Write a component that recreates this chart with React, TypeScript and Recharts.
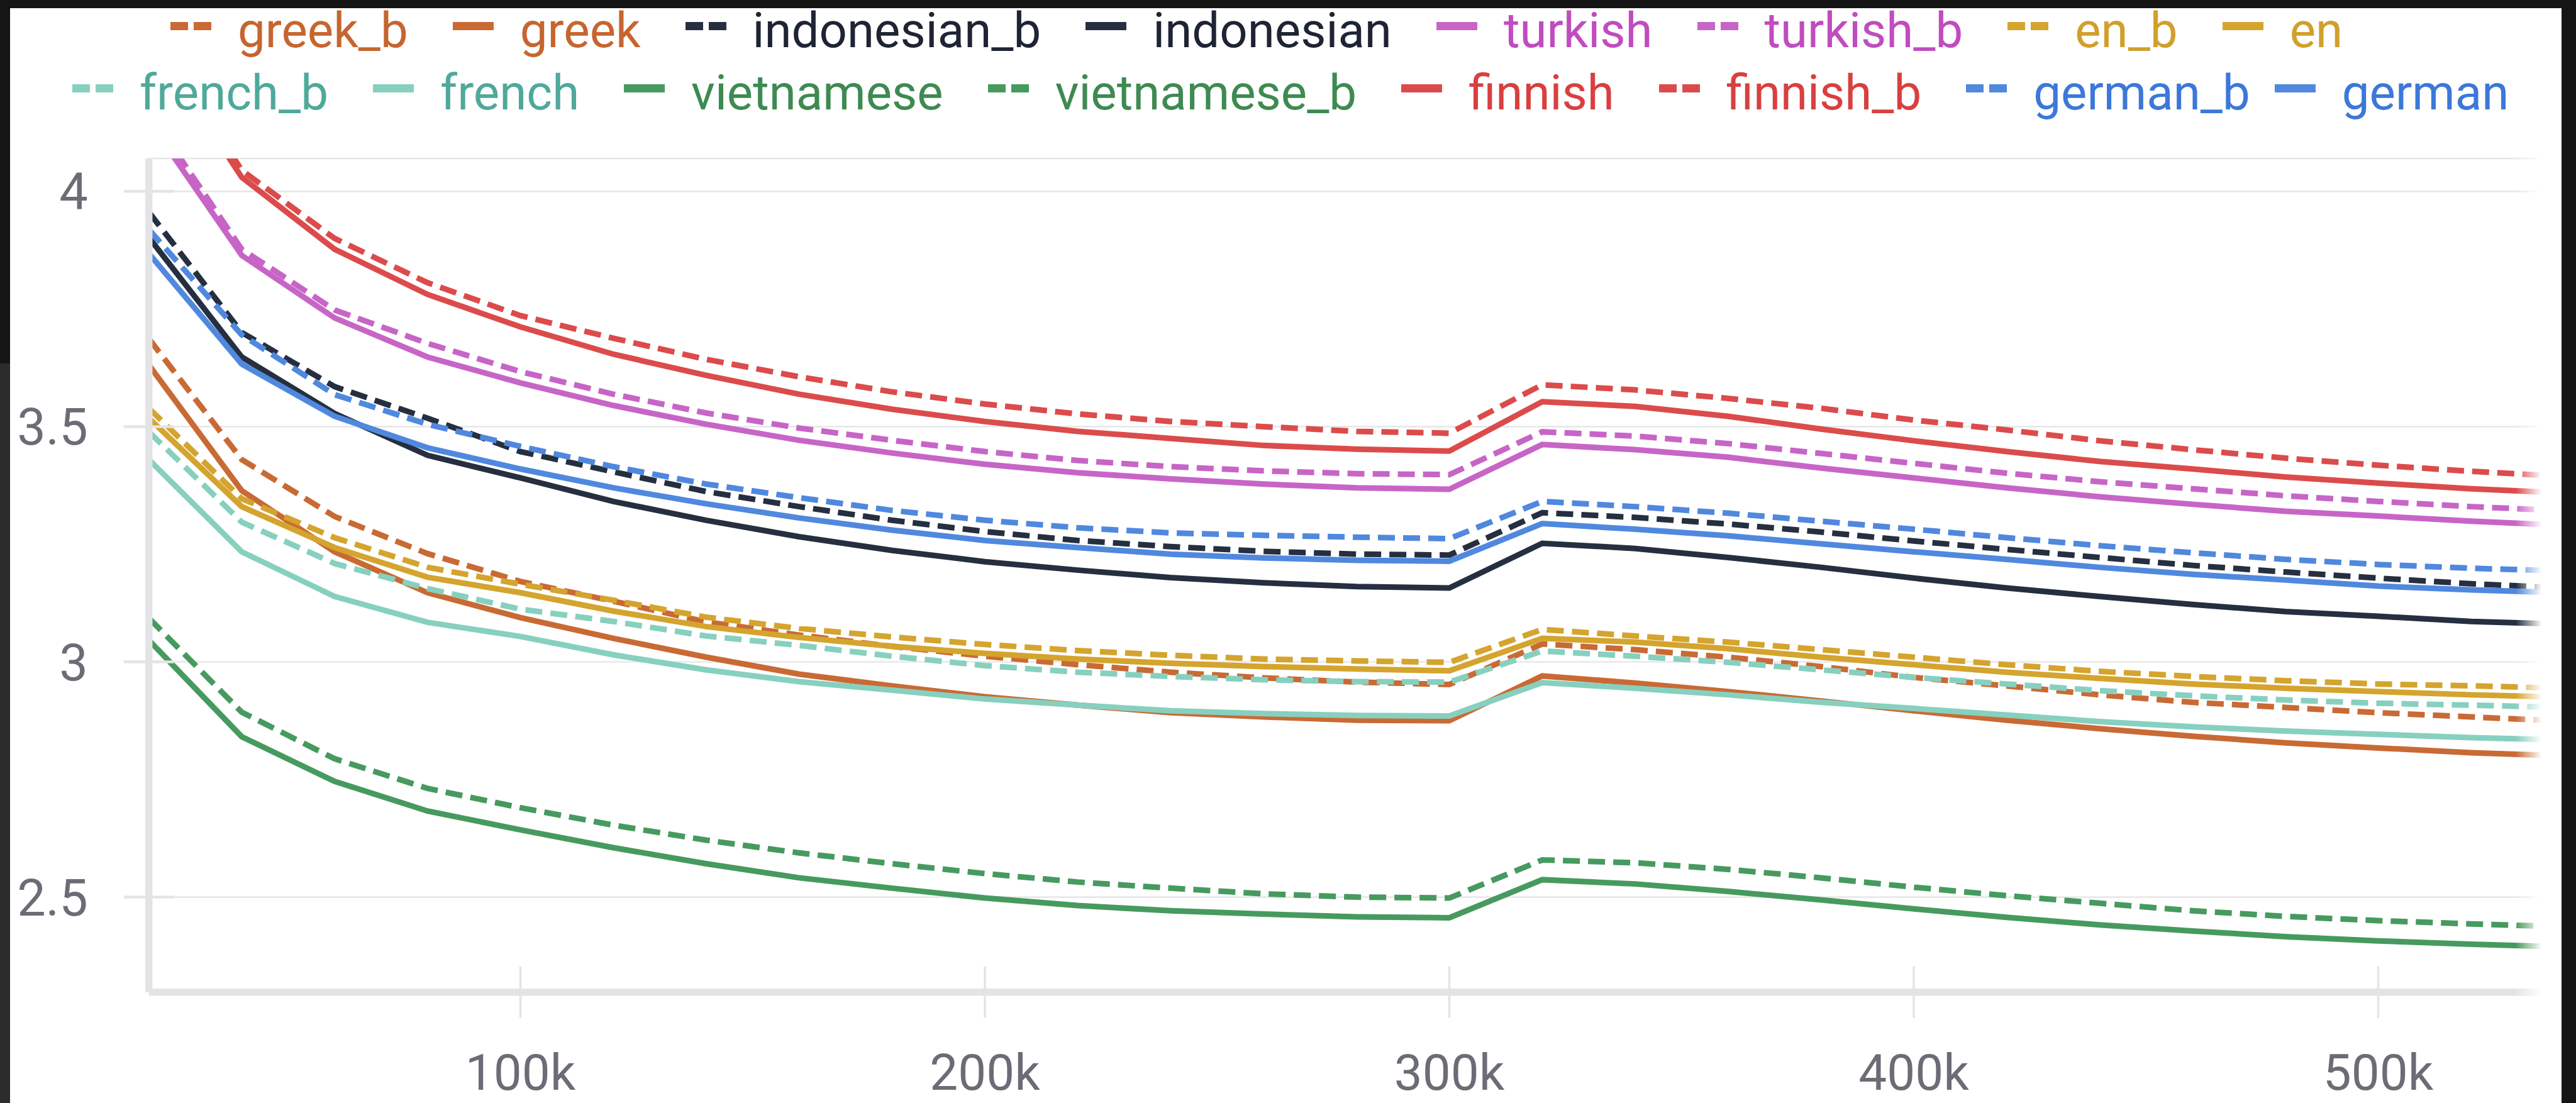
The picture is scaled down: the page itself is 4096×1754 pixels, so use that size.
import { LineChart, Line, XAxis, YAxis, CartesianGrid, Legend } from 'recharts';

const W = 4096;
const H = 1754;

// plot frame, in page pixels
const PLOT_LEFT = 236.7;
const PLOT_RIGHT = 4040;
const PLOT_TOP = 252;
const PLOT_BOTTOM = 1577.7;

const FONT = 'Roboto, "Noto Sans", sans-serif';
const AXIS_GRAY = '#e4e4e7';
const GRID_GRAY = '#e8e8ea';
const LABEL_GRAY = '#6c6c76';

const STEPS = [
  20000, 40000, 60000, 80000, 100000, 120000, 140000, 160000, 180000, 200000,
  220000, 240000, 260000, 280000, 300000, 320000, 340000, 360000, 380000, 400000,
  420000, 440000, 460000, 480000, 500000, 520000, 540000,
];

const X_TICKS = [100000, 200000, 300000, 400000, 500000];
const Y_TICKS = [2.5, 3, 3.5, 4];

const GREEK_B = [3.687, 3.43, 3.309, 3.23, 3.171, 3.129, 3.085, 3.057, 3.033, 3.012, 2.994, 2.978, 2.966, 2.957, 2.952, 3.038, 3.026, 3.01, 2.99, 2.967, 2.949, 2.93, 2.914, 2.903, 2.892, 2.883, 2.874];
const GREEK = [3.631, 3.364, 3.234, 3.147, 3.094, 3.05, 3.01, 2.974, 2.949, 2.926, 2.908, 2.892, 2.883, 2.876, 2.875, 2.97, 2.955, 2.937, 2.917, 2.896, 2.876, 2.858, 2.842, 2.828, 2.817, 2.807, 2.8];
const INDONESIAN_B = [3.956, 3.7, 3.585, 3.518, 3.447, 3.404, 3.362, 3.33, 3.301, 3.277, 3.258, 3.245, 3.235, 3.229, 3.227, 3.317, 3.307, 3.293, 3.276, 3.257, 3.239, 3.222, 3.205, 3.191, 3.178, 3.166, 3.157];
const INDONESIAN = [3.902, 3.648, 3.528, 3.439, 3.391, 3.341, 3.301, 3.266, 3.237, 3.213, 3.195, 3.179, 3.168, 3.16, 3.157, 3.252, 3.241, 3.222, 3.201, 3.178, 3.157, 3.139, 3.122, 3.107, 3.097, 3.086, 3.08];
const TURKISH = [4.15, 3.864, 3.731, 3.648, 3.593, 3.545, 3.505, 3.471, 3.444, 3.42, 3.402, 3.389, 3.378, 3.37, 3.367, 3.462, 3.451, 3.435, 3.412, 3.391, 3.37, 3.351, 3.335, 3.32, 3.31, 3.299, 3.29];
const TURKISH_B = [4.17, 3.877, 3.748, 3.677, 3.617, 3.569, 3.529, 3.497, 3.471, 3.447, 3.428, 3.415, 3.406, 3.4, 3.398, 3.489, 3.48, 3.464, 3.443, 3.422, 3.401, 3.383, 3.368, 3.353, 3.341, 3.33, 3.321];
const EN_B = [3.539, 3.347, 3.264, 3.201, 3.165, 3.131, 3.095, 3.071, 3.053, 3.037, 3.024, 3.014, 3.006, 3.002, 2.999, 3.069, 3.055, 3.042, 3.026, 3.01, 2.994, 2.98, 2.969, 2.96, 2.953, 2.949, 2.944];
const EN = [3.518, 3.33, 3.243, 3.18, 3.147, 3.108, 3.075, 3.052, 3.033, 3.018, 3.006, 2.997, 2.99, 2.985, 2.981, 3.05, 3.042, 3.028, 3.01, 2.994, 2.978, 2.965, 2.953, 2.944, 2.937, 2.93, 2.925];
const FRENCH_B = [3.489, 3.297, 3.209, 3.156, 3.112, 3.086, 3.055, 3.035, 3.012, 2.992, 2.978, 2.969, 2.962, 2.958, 2.957, 3.023, 3.012, 2.999, 2.983, 2.967, 2.953, 2.939, 2.928, 2.919, 2.912, 2.908, 2.903];
const FRENCH = [3.43, 3.234, 3.139, 3.084, 3.054, 3.015, 2.983, 2.958, 2.94, 2.921, 2.908, 2.896, 2.89, 2.886, 2.885, 2.956, 2.944, 2.93, 2.914, 2.901, 2.887, 2.873, 2.862, 2.853, 2.846, 2.839, 2.834];
const VIETNAMESE = [3.046, 2.841, 2.746, 2.683, 2.643, 2.605, 2.571, 2.541, 2.519, 2.498, 2.482, 2.471, 2.464, 2.458, 2.456, 2.537, 2.528, 2.512, 2.494, 2.475, 2.457, 2.441, 2.428, 2.416, 2.407, 2.4, 2.394];
const VIETNAMESE_B = [3.093, 2.893, 2.794, 2.731, 2.69, 2.653, 2.621, 2.594, 2.571, 2.55, 2.532, 2.519, 2.507, 2.5, 2.498, 2.579, 2.573, 2.559, 2.541, 2.521, 2.503, 2.487, 2.471, 2.459, 2.45, 2.443, 2.437];
const FINNISH = [4.33, 4.03, 3.877, 3.781, 3.712, 3.654, 3.609, 3.569, 3.537, 3.511, 3.49, 3.475, 3.46, 3.452, 3.448, 3.553, 3.543, 3.522, 3.495, 3.47, 3.447, 3.426, 3.41, 3.393, 3.38, 3.368, 3.359];
const FINNISH_B = [4.35, 4.045, 3.9, 3.806, 3.736, 3.688, 3.643, 3.606, 3.574, 3.548, 3.527, 3.511, 3.5, 3.49, 3.486, 3.589, 3.578, 3.56, 3.539, 3.514, 3.493, 3.47, 3.451, 3.433, 3.418, 3.405, 3.394];
const GERMAN_B = [3.919, 3.695, 3.568, 3.505, 3.458, 3.415, 3.378, 3.349, 3.322, 3.301, 3.285, 3.274, 3.269, 3.265, 3.262, 3.341, 3.33, 3.316, 3.299, 3.282, 3.264, 3.247, 3.232, 3.218, 3.207, 3.199, 3.193];
const GERMAN = [3.868, 3.633, 3.522, 3.455, 3.41, 3.37, 3.336, 3.306, 3.28, 3.258, 3.243, 3.229, 3.221, 3.216, 3.214, 3.294, 3.282, 3.268, 3.251, 3.234, 3.218, 3.201, 3.186, 3.174, 3.161, 3.153, 3.147];

// line colour / legend text colour per language
const ORANGE = ['#c96a34', '#c6652f'];
const NAVY = ['#252f40', '#1e2433'];
const MAGENTA = ['#c765c7', '#c04cbf'];
const GOLD = ['#d4a42e', '#d0a02b'];
const TEAL = ['#87d0bf', '#4fa99a'];
const GREEN = ['#479a5f', '#3e8a52'];
const RED = ['#dc4b4b', '#d93f3f'];
const BLUE = ['#5088de', '#3c78da'];

const SERIES = [
  { key: 'greek_b', values: GREEK_B, color: ORANGE, dashed: true },
  { key: 'greek', values: GREEK, color: ORANGE, dashed: false },
  { key: 'indonesian_b', values: INDONESIAN_B, color: NAVY, dashed: true },
  { key: 'indonesian', values: INDONESIAN, color: NAVY, dashed: false },
  { key: 'turkish', values: TURKISH, color: MAGENTA, dashed: false },
  { key: 'turkish_b', values: TURKISH_B, color: MAGENTA, dashed: true },
  { key: 'en_b', values: EN_B, color: GOLD, dashed: true },
  { key: 'en', values: EN, color: GOLD, dashed: false },
  { key: 'french_b', values: FRENCH_B, color: TEAL, dashed: true },
  { key: 'french', values: FRENCH, color: TEAL, dashed: false },
  { key: 'vietnamese', values: VIETNAMESE, color: GREEN, dashed: false },
  { key: 'vietnamese_b', values: VIETNAMESE_B, color: GREEN, dashed: true },
  { key: 'finnish', values: FINNISH, color: RED, dashed: false },
  { key: 'finnish_b', values: FINNISH_B, color: RED, dashed: true },
  { key: 'german_b', values: GERMAN_B, color: BLUE, dashed: true },
  { key: 'german', values: GERMAN, color: BLUE, dashed: false },
];

const data = STEPS.map((step, i) => {
  const row: Record<string, number> = { step };
  SERIES.forEach((s) => {
    row[s.key] = s.values[i];
  });
  return row;
});

const LEGEND_ROW_LEFT = [271, 115];
const LEGEND_ROW_TOP = [10, 109];

function LegendIcon({ color, dashed }: { color: string; dashed: boolean }) {
  if (!dashed) {
    return <div style={{ width: 65, height: 13, background: color, marginTop: 25 }} />;
  }
  return (
    <div style={{ display: 'flex', width: 65, height: 13, marginTop: 25, gap: 9 }}>
      <div style={{ flex: 1, background: color }} />
      <div style={{ flex: 1, background: color }} />
    </div>
  );
}

function LegendRows() {
  const rows = [SERIES.slice(0, 8), SERIES.slice(8)];
  return (
    <div style={{ position: 'relative', width: W, height: 200, fontFamily: FONT }}>
      {rows.map((row, r) => (
        <div
          key={r}
          style={{
            position: 'absolute',
            left: LEGEND_ROW_LEFT[r],
            top: LEGEND_ROW_TOP[r],
            display: 'flex',
            alignItems: 'flex-start',
            whiteSpace: 'nowrap',
          }}
        >
          {row.map((s) => (
            <div
              key={s.key}
              style={{
                display: 'flex',
                alignItems: 'flex-start',
                // the last pair on the second row sits tighter
                marginRight: s.key === 'german_b' ? 39 : 71,
              }}
            >
              <LegendIcon color={s.color[0]} dashed={s.dashed} />
              <span
                style={{
                  marginLeft: 42,
                  fontSize: 78,
                  lineHeight: '78px',
                  color: s.color[1],
                }}
              >
                {s.key}
              </span>
            </div>
          ))}
        </div>
      ))}
    </div>
  );
}

function YTick({ y, payload }: any) {
  return (
    <g>
      <line x1={PLOT_LEFT - 40} x2={PLOT_LEFT + 40} y1={y} y2={y} stroke={AXIS_GRAY} strokeWidth={4.5} />
      <text
        x={PLOT_LEFT - 97}
        y={y}
        dy={29}
        textAnchor="end"
        fontSize={81}
        fontFamily={FONT}
        fill={LABEL_GRAY}
      >
        {payload.value}
      </text>
    </g>
  );
}

function XTick({ x, payload }: any) {
  return (
    <g>
      <line x1={x} x2={x} y1={PLOT_BOTTOM - 41} y2={PLOT_BOTTOM + 41} stroke={AXIS_GRAY} strokeWidth={3.5} />
      <text
        x={x}
        y={PLOT_BOTTOM + 155}
        textAnchor="middle"
        fontSize={80}
        fontFamily={FONT}
        fill={LABEL_GRAY}
      >
        {`${payload.value / 1000}k`}
      </text>
    </g>
  );
}

export default function App() {
  return (
    <div
      style={{
        position: 'fixed',
        left: 0,
        top: 0,
        width: W,
        height: H,
        background: '#151515',
        overflow: 'hidden',
      }}
    >
      <div style={{ position: 'absolute', left: 0, top: 578, width: 16, height: H - 578, background: '#2c2c2c' }} />
      <div style={{ position: 'absolute', left: 16, top: 12.5, width: 4057, height: H - 12.5, background: '#ffffff' }} />
      <div style={{ position: 'absolute', left: 0, top: 0 }}>
        <LineChart
          width={W}
          height={H}
          data={data}
          margin={{ top: PLOT_TOP, right: W - PLOT_RIGHT, bottom: 0, left: 0 }}
        >
          <CartesianGrid vertical={false} stroke={GRID_GRAY} strokeWidth={2.7} />
          <XAxis
            dataKey="step"
            type="number"
            domain={[20000, 535000]}
            allowDataOverflow
            ticks={X_TICKS}
            height={H - PLOT_BOTTOM}
            axisLine={{ stroke: AXIS_GRAY, strokeWidth: 11.5 }}
            tickLine={false}
            tick={<XTick />}
            interval={0}
          />
          <YAxis
            type="number"
            domain={[2.298, 4.07]}
            allowDataOverflow
            ticks={Y_TICKS}
            width={PLOT_LEFT}
            axisLine={{ stroke: AXIS_GRAY, strokeWidth: 11.5 }}
            tickLine={false}
            tick={<YTick />}
            interval={0}
          />
          <Legend
            layout="horizontal"
            verticalAlign="middle"
            align="center"
            wrapperStyle={{ top: 0, left: 0, width: W, height: 200 }}
            content={() => <LegendRows />}
          />
          {SERIES.map((s) => (
            <Line
              key={s.key}
              dataKey={s.key}
              name={s.key}
              type="linear"
              stroke={s.color[0]}
              strokeWidth={9}
              strokeDasharray={s.dashed ? '27 13' : undefined}
              dot={false}
              activeDot={false}
              isAnimationActive={false}
            />
          ))}
        </LineChart>
      </div>
      {/* soft fade where the curves run off the right edge */}
      <div
        style={{
          position: 'absolute',
          left: 4000,
          top: 240,
          width: 60,
          height: 1345,
          background: 'linear-gradient(to right, rgba(255,255,255,0), #ffffff 70%)',
          pointerEvents: 'none',
        }}
      />
    </div>
  );
}
